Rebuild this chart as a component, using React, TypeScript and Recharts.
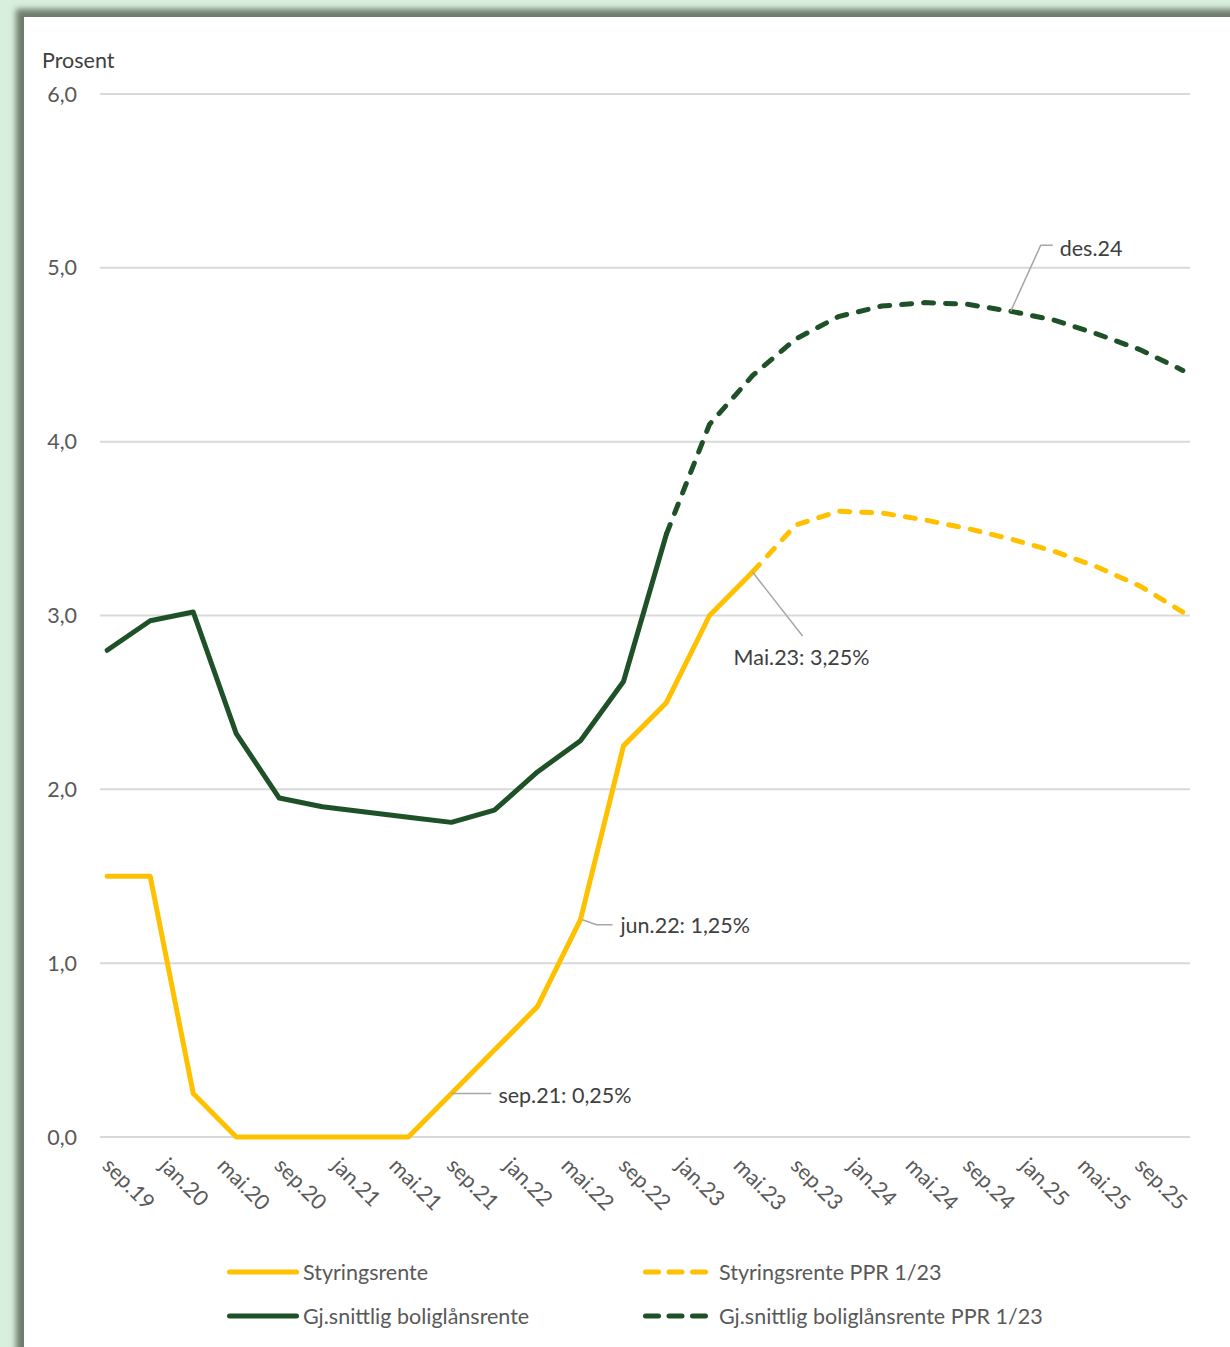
import {
  CartesianGrid,
  Line,
  LineChart,
  ReferenceDot,
  XAxis,
  YAxis,
} from "recharts";

// kvartalsvise observasjoner, sep.19 - des.25
const quarters = [
  "sep.19", "des.19", "mar.20", "jun.20", "sep.20", "des.20", "mar.21", "jun.21",
  "sep.21", "des.21", "mar.22", "jun.22", "sep.22", "des.22", "mar.23", "jun.23",
  "sep.23", "des.23", "mar.24", "jun.24", "sep.24", "des.24", "mar.25", "jun.25",
  "sep.25", "des.25",
];

const styringsrente = [
  1.5, 1.5, 0.25, 0, 0, 0, 0, 0, 0.25, 0.5, 0.75, 1.25, 2.25, 2.5, 3.0, 3.25,
  null, null, null, null, null, null, null, null, null, null,
];

const styringsrentePPR = [
  null, null, null, null, null, null, null, null, null, null, null, null, null, null, null,
  3.25, 3.52, 3.6, 3.59, 3.55, 3.5, 3.44, 3.37, 3.28, 3.17, 3.02,
];

const boligrente = [
  2.8, 2.97, 3.02, 2.32, 1.95, 1.9, 1.87, 1.84, 1.81, 1.88, 2.1, 2.28, 2.62, 3.47,
  null, null, null, null, null, null, null, null, null, null, null, null,
];

const boligrentePPR = [
  null, null, null, null, null, null, null, null, null, null, null, null, null,
  3.47, 4.1, 4.38, 4.59, 4.72, 4.78, 4.8, 4.79, 4.75, 4.7, 4.62, 4.53, 4.41,
];

const xTickLabels = [
  "sep.19", "jan.20", "mai.20", "sep.20", "jan.21", "mai.21", "sep.21", "jan.22",
  "mai.22", "sep.22", "jan.23", "mai.23", "sep.23", "jan.24", "mai.24", "sep.24",
  "jan.25", "mai.25", "sep.25",
];

const yTicks = [0, 1, 2, 3, 4, 5, 6];

const annotations = [
  { month: 24, value: 0.25, text: "sep.21: 0,25%" },
  { month: 33, value: 1.25, text: "jun.22: 1,25%" },
  { month: 45, value: 3.25, text: "Mai.23: 3,25%" },
  { month: 63, value: 4.75, text: "des.24" },
];

const YELLOW = "#FFC000";
const GREEN = "#1E5128";
const FONT = "Lato, 'Open Sans', sans-serif";
const FS = 21.5;
const DASH = "10 12";

// leder-linje og tekstplassering per merknad (relativt til punktet)
const annotationLayout = [
  { path: "M0,0 L40,0", tx: 47, ty: 2 },
  { path: "M2,0 L16,5 L32,5", tx: 40, ty: 6 },
  { path: "M0,0 L50,64", tx: -19, ty: 85 },
  { path: "M0,0 L30,-66 L42,-66", tx: 49, ty: -63 },
];

const chartData = quarters.map((q, i) => ({
  month: i * 3,
  quarter: q,
  styringsrente: styringsrente[i],
  styringsrentePPR: styringsrentePPR[i],
  boligrente: boligrente[i],
  boligrentePPR: boligrentePPR[i],
}));

const XTick = (props: any) => {
  const { x, y, payload } = props;
  const label = xTickLabels[payload.value / 4];
  return (
    <g transform={`translate(${x - 6},${y + 30}) rotate(45)`}>
      <text x={0} y={0} textAnchor="start" fill="#595959" fontSize={FS} fontFamily={FONT}>
        {label}
      </text>
    </g>
  );
};

const Annotation = ({ cx, cy, idx }: any) => {
  const a = annotations[idx];
  const l = annotationLayout[idx];
  return (
    <g transform={`translate(${cx},${cy})`}>
      <path d={l.path} stroke="#a6a6a6" strokeWidth={1.5} fill="none" />
      <text
        x={l.tx}
        y={l.ty}
        dy="0.35em"
        fill="#404040"
        fontSize={FS}
        fontFamily={FONT}
      >
        {a.text}
      </text>
    </g>
  );
};

const legendItems = [
  { label: "Styringsrente", color: YELLOW, dashed: false, left: 227, top: 1272 },
  { label: "Styringsrente PPR 1/23", color: YELLOW, dashed: true, left: 643, top: 1272 },
  { label: "Gj.snittlig boliglånsrente", color: GREEN, dashed: false, left: 227, top: 1316 },
  { label: "Gj.snittlig boliglånsrente PPR 1/23", color: GREEN, dashed: true, left: 643, top: 1316 },
];

export default function App() {
  return (
    <div
      style={{
        position: "absolute",
        left: 0,
        top: 0,
        width: 1230,
        height: 1347,
        overflow: "hidden",
        background: "#d9efdd",
        fontFamily: FONT,
      }}
    >
      {/* hvitt panel med skygge */}
      <div
        style={{
          position: "absolute",
          left: 24,
          top: 17,
          width: 1260,
          height: 1400,
          background: "#fff",
          boxShadow: "-6px -6px 6px 2px #6f7d6c",
        }}
      />

      <div style={{ position: "absolute", left: 42, top: 47, fontSize: FS, color: "#404040" }}>
        Prosent
      </div>

      <div style={{ position: "absolute", left: 0, top: 0 }}>
        <LineChart
          width={1230}
          height={1347}
          data={chartData}
          margin={{ top: 94, right: 40, left: 0, bottom: 0 }}
        >
          <CartesianGrid vertical={false} stroke="#d9d9d9" strokeWidth={2} />
          <XAxis
            dataKey="month"
            type="number"
            domain={[-0.5, 75.5]}
            ticks={xTickLabels.map((_, i) => i * 4)}
            interval={0}
            height={210}
            axisLine={false}
            tickLine={false}
            tickSize={0}
            tickMargin={0}
            tick={<XTick />}
          />
          <YAxis
            domain={[0, 6]}
            ticks={yTicks}
            width={100}
            axisLine={false}
            tickLine={false}
            tickSize={0}
            tickMargin={23}
            tickFormatter={(v: number) => v.toFixed(1).replace(".", ",")}
            tick={{ fill: "#595959", fontSize: FS, fontFamily: FONT }}
          />
          <Line
            dataKey="styringsrentePPR"
            stroke={YELLOW}
            strokeWidth={5}
            strokeDasharray={DASH}
            strokeLinecap="round"
            dot={false}
            isAnimationActive={false}
          />
          <Line
            dataKey="boligrentePPR"
            stroke={GREEN}
            strokeWidth={5}
            strokeDasharray={DASH}
            strokeLinecap="round"
            dot={false}
            isAnimationActive={false}
          />
          <Line
            dataKey="styringsrente"
            stroke={YELLOW}
            strokeWidth={5}
            strokeLinejoin="round"
            strokeLinecap="round"
            dot={false}
            isAnimationActive={false}
          />
          <Line
            dataKey="boligrente"
            stroke={GREEN}
            strokeWidth={5}
            strokeLinejoin="round"
            strokeLinecap="round"
            dot={false}
            isAnimationActive={false}
          />
          {annotations.map((a, i) => (
            <ReferenceDot
              key={a.text}
              x={a.month}
              y={a.value}
              ifOverflow="visible"
              shape={(p: any) => <Annotation cx={p.cx} cy={p.cy} idx={i} />}
            />
          ))}
        </LineChart>
      </div>

      {/* tegnforklaring */}
      {legendItems.map((item) => (
        <div
          key={item.label}
          style={{
            position: "absolute",
            left: item.left,
            top: item.top - 14,
            height: 28,
            display: "flex",
            alignItems: "center",
            fontSize: FS,
            color: "#595959",
            whiteSpace: "nowrap",
          }}
        >
          <svg width={item.dashed ? 68 : 72} height={10} style={{ display: "block" }}>
            <line
              x1={2.5}
              x2={item.dashed ? 65.5 : 69.5}
              y1={5}
              y2={5}
              stroke={item.color}
              strokeWidth={5}
              strokeLinecap="round"
              strokeDasharray={item.dashed ? "13 10.5" : undefined}
            />
          </svg>
          <span style={{ marginLeft: item.dashed ? 8 : 4 }}>{item.label}</span>
        </div>
      ))}
    </div>
  );
}
